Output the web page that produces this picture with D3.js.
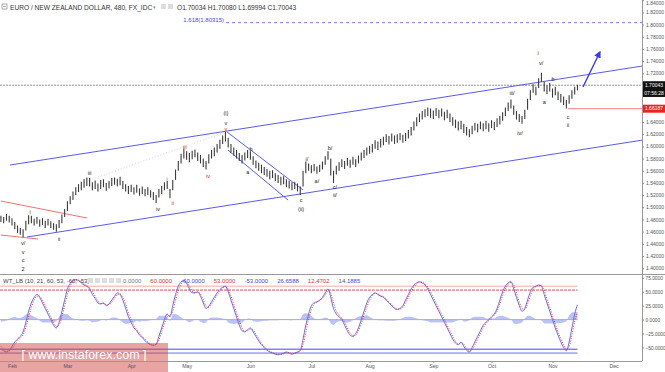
<!DOCTYPE html>
<html>
<head>
<meta charset="utf-8">
<script src="https://cdn.jsdelivr.net/npm/d3@7"></script>
<style>
  body { margin: 0; background: #fff; }
  svg { display: block; font-family: "Liberation Sans", Arial, sans-serif; }
</style>
</head>
<body>
<svg id="chart" width="665" height="372"></svg>
<script>
// daily lows / highs (trading day index 0 = 26 Jan)
const lows = [
  1.476,1.474,1.478,1.475,1.470,1.464,1.458,1.455,1.451,1.462,
  1.472,1.474,1.470,1.473,1.468,1.471,1.466,1.470,1.466,1.463,
  1.460,1.466,1.474,1.484,1.494,1.505,1.512,1.520,1.525,1.528,
  1.532,1.535,1.534,1.528,1.530,1.526,1.530,1.533,1.527,1.531,
  1.535,1.537,1.534,1.536,1.530,1.526,1.522,1.525,1.521,1.524,
  1.519,1.522,1.518,1.520,1.516,1.512,1.507,1.516,1.522,1.528,
  1.530,1.515,1.528,1.545,1.560,1.572,1.580,1.578,1.574,1.579,
  1.582,1.576,1.572,1.566,1.562,1.572,1.580,1.584,1.590,1.596,
  1.604,1.608,1.598,1.590,1.585,1.580,1.576,1.572,1.577,1.581,
  1.578,1.570,1.564,1.560,1.556,1.553,1.550,1.546,1.548,1.543,
  1.540,1.536,1.538,1.533,1.531,1.528,1.530,1.526,1.520,1.534,
  1.556,1.560,1.556,1.559,1.555,1.558,1.562,1.570,1.578,1.552,
  1.540,1.554,1.560,1.566,1.563,1.568,1.565,1.570,1.566,1.572,
  1.577,1.581,1.585,1.588,1.590,1.596,1.594,1.598,1.602,1.607,
  1.603,1.608,1.604,1.606,1.610,1.606,1.609,1.613,1.618,1.626,
  1.633,1.640,1.644,1.648,1.650,1.647,1.645,1.650,1.646,1.649,
  1.643,1.646,1.640,1.634,1.630,1.626,1.628,1.622,1.618,1.615,
  1.620,1.626,1.623,1.628,1.625,1.628,1.624,1.630,1.627,1.632,
  1.636,1.642,1.650,1.658,1.662,1.652,1.644,1.640,1.637,1.645,
  1.660,1.676,1.688,1.684,1.696,1.706,1.690,1.686,1.690,1.680,
  1.684,1.676,1.672,1.668,1.662,1.670,1.678,1.685,1.692
];
const highs = [
  1.486,1.484,1.489,1.486,1.482,1.476,1.470,1.466,1.464,1.478,
  1.487,1.486,1.481,1.484,1.480,1.482,1.478,1.481,1.477,1.474,
  1.472,1.479,1.488,1.497,1.510,1.518,1.526,1.533,1.538,1.542,
  1.546,1.549,1.548,1.541,1.544,1.539,1.545,1.546,1.540,1.543,
  1.548,1.549,1.547,1.550,1.543,1.538,1.535,1.537,1.533,1.537,
  1.531,1.534,1.530,1.533,1.528,1.525,1.520,1.530,1.535,1.541,
  1.543,1.530,1.545,1.562,1.576,1.588,1.596,1.592,1.589,1.593,
  1.595,1.590,1.586,1.580,1.576,1.587,1.594,1.598,1.604,1.611,
  1.618,1.624,1.614,1.604,1.598,1.594,1.589,1.586,1.590,1.594,
  1.592,1.584,1.577,1.573,1.570,1.566,1.563,1.560,1.561,1.556,
  1.553,1.550,1.551,1.546,1.544,1.541,1.542,1.539,1.534,1.560,
  1.575,1.572,1.569,1.571,1.567,1.570,1.575,1.584,1.592,1.580,
  1.560,1.568,1.574,1.579,1.576,1.581,1.578,1.583,1.579,1.585,
  1.590,1.594,1.598,1.601,1.604,1.610,1.608,1.612,1.616,1.620,
  1.617,1.621,1.618,1.620,1.622,1.619,1.622,1.627,1.632,1.641,
  1.648,1.654,1.658,1.661,1.664,1.662,1.659,1.663,1.660,1.662,
  1.657,1.660,1.654,1.648,1.644,1.641,1.642,1.637,1.632,1.628,
  1.634,1.639,1.637,1.641,1.638,1.642,1.638,1.643,1.640,1.646,
  1.650,1.656,1.664,1.672,1.677,1.667,1.658,1.653,1.650,1.660,
  1.678,1.692,1.702,1.698,1.712,1.721,1.706,1.700,1.704,1.695,
  1.698,1.690,1.686,1.682,1.676,1.684,1.692,1.698,1.701
];

// WT_LB oscillator, one reading per trading day
const wt1 = [
  -52,-56,-58,-55,-48,-40,-35,-30,-22,-5,
  15,30,40,45,40,30,20,10,0,-10,
  -15,-5,15,35,55,65,70,72,70,66,
  62,60,55,45,38,30,28,30,25,28,
  35,42,48,45,35,20,5,-5,-15,-20,
  -28,-32,-38,-42,-45,-46,-44,-30,-15,0,
  10,5,25,45,60,68,70,65,55,48,
  48,50,42,30,20,24,32,40,48,54,
  58,60,50,35,20,5,-10,-20,-22,-18,
  -15,-22,-30,-38,-45,-50,-55,-58,-60,-62,
  -63,-62,-60,-58,-60,-62,-60,-58,-55,-35,
  -10,10,25,30,32,35,40,48,55,40,
  20,10,5,0,-10,-20,-28,-30,-25,-15,
  0,15,30,40,45,48,45,42,40,35,
  30,25,20,18,20,25,35,45,55,62,
  66,68,66,62,55,45,35,25,15,5,
  -5,-15,-25,-35,-42,-45,-40,-48,-55,-58,
  -50,-40,-30,-20,-10,-5,0,5,10,20,
  35,50,60,66,68,55,40,25,15,20,
  35,50,58,60,62,60,45,30,15,0,
  -15,-28,-40,-50,-56,-40,-15,10,26.66
];
const wt2 = [
  -48,-53,-56,-56,-52,-45,-38,-33,-27,-14,
  5,22,35,42,42,35,25,15,5,-5,
  -12,-10,5,25,45,60,68,71,71,68,
  64,61,57,50,42,34,29,29,27,27,
  31,38,45,46,40,28,12,0,-10,-18,
  -24,-30,-35,-40,-44,-46,-45,-37,-22,-7,
  5,8,15,35,52,64,69,67,60,51,
  48,49,46,36,25,22,28,36,44,51,
  56,59,55,42,28,12,-2,-15,-21,-20,
  -17,-19,-26,-34,-42,-48,-53,-57,-59,-61,
  -62,-62,-61,-59,-59,-61,-61,-59,-56,-45,
  -22,0,18,28,31,34,38,44,52,47,
  30,15,8,2,-5,-15,-24,-29,-28,-20,
  -7,8,22,35,43,47,46,43,41,37,
  32,27,22,19,19,22,30,40,50,58,
  64,67,67,64,58,50,40,30,20,10,
  0,-10,-20,-30,-39,-44,-42,-44,-52,-57,
  -54,-45,-35,-25,-15,-7,-2,3,8,15,
  28,43,55,63,67,62,48,32,20,18,
  28,43,54,59,61,61,52,37,22,7,
  -8,-22,-34,-45,-53,-48,-28,-3,12.47
];

const monthTicks = [4, 24, 47, 67, 90, 112, 133, 156, 177, 199, 221];
const monthNames = ['Feb','Mar','Apr','May','Jun','Jul','Aug','Sep','Oct','Nov','Dec'];
const priceTicks = [1.84,1.82,1.80,1.78,1.76,1.74,1.72,1.64,1.62,1.60,1.58,1.56,1.54,1.52,1.50,1.48,1.46,1.44,1.42,1.40];
const oscTicks = [75, 50, 25, 0, -25, -50];
const oscLevels = [60, 53, 0, -53, -60];

// wave counts: [day index, price, text, red]
const waveLabels = [
  [8, 1.4413, 'v/', 0], [8, 1.4265, 'v', 0], [8, 1.4134, 'c', 0], [8, 1.3986, '2', 0],
  [10.5, 1.4922, 'i', 0], [21, 1.4479, 'ii', 0], [32, 1.5563, 'iii', 0], [56.7, 1.4971, 'iv', 0],
  [60, 1.5464, 'i', 1], [62, 1.5070, 'ii', 1], [66.4, 1.5990, 'iii', 1], [74.7, 1.5513, 'iv', 1],
  [81.2, 1.6548, '(i)', 0], [81.2, 1.6384, 'v', 0], [81.2, 1.6285, 'v', 1],
  [90.2, 1.5957, 'b', 0], [89.1, 1.5579, 'a', 0], [108.3, 1.5119, 'c', 0], [108.3, 1.4971, '(ii)', 0],
  [110.4, 1.5792, 'i/', 0], [114, 1.5431, 'a/', 0], [118.7, 1.5973, 'b/', 0],
  [120.5, 1.5333, 'c/', 0], [120.5, 1.5201, 'ii/', 0],
  [184.4, 1.6876, 'iii/', 0], [187.3, 1.6219, 'iv/', 0],
  [193.8, 1.7533, 'i', 0], [194.9, 1.7369, 'v/', 0], [199.2, 1.7106, 'b', 0], [196, 1.6728, 'a', 0],
  [204.6, 1.6482, 'c', 0], [204.6, 1.6351, 'ii', 0]
];

// trend lines: [i0, p0, i1, p1, colour, dash]
const trendLines = [
  [3.3, 1.5694, 231.5, 1.7320, '#5a5af0', null],
  [9.4, 1.4512, 231.5, 1.6104, '#5a5af0', null],
  [0, 1.5103, 31.1, 1.4824, '#f07070', null],
  [0, 1.4545, 13.4, 1.4479, '#f07070', null],
  [81.6, 1.6236, 109, 1.5284, '#5a5af0', null],
  [81.9, 1.5940, 103.6, 1.5119, '#5a5af0', null],
  [32, 1.5448, 81.2, 1.6236, '#d0d0d0', '1,2']
];

const lastPrice = 1.70043;
const stopPrice = 1.66187;
const fibPrice = 1.80315;

const svg = d3.select('#chart');
const plotRight = 642;
const mainBottom = 274;
const oscBottom = 361;

const x = d3.scaleLinear().domain([0, 221]).range([0.9, 613.5]);
const y = d3.scaleLinear().domain([1.40, 1.84]).range([268.2, 0.2]);
const yo = d3.scaleLinear().domain([-50, 75]).range([347.5, 277.8]);

const defs = svg.append('defs');
defs.append('clipPath').attr('id', 'clipMain')
  .append('rect').attr('x', 0).attr('y', 0).attr('width', plotRight).attr('height', mainBottom);
defs.append('clipPath').attr('id', 'clipOsc')
  .append('rect').attr('x', 0).attr('y', mainBottom).attr('width', plotRight).attr('height', oscBottom - mainBottom);

const main = svg.append('g').attr('clip-path', 'url(#clipMain)');

// current price line
main.append('line')
  .attr('x1', 0).attr('x2', plotRight)
  .attr('y1', y(lastPrice)).attr('y2', y(lastPrice))
  .attr('stroke', '#777').attr('stroke-dasharray', '2,1').attr('stroke-width', 0.8);

// fib target
main.append('line')
  .attr('x1', 226).attr('x2', plotRight)
  .attr('y1', y(fibPrice)).attr('y2', y(fibPrice))
  .attr('stroke', '#5a5af0').attr('stroke-dasharray', '3,3').attr('stroke-width', 0.8);
main.append('text')
  .attr('x', 224).attr('y', y(fibPrice) - 0.5)
  .attr('text-anchor', 'end')
  .attr('font-size', 6).attr('fill', '#4848e8')
  .text('1.618(1.80315)');

// stop level
main.append('line')
  .attr('x1', x(204.6)).attr('x2', plotRight)
  .attr('y1', y(stopPrice)).attr('y2', y(stopPrice))
  .attr('stroke', '#f06060').attr('stroke-width', 0.8);

main.selectAll('.trend')
  .data(trendLines)
  .enter()
  .append('line')
  .attr('x1', d => x(d[0])).attr('y1', d => y(d[1]))
  .attr('x2', d => x(d[2])).attr('y2', d => y(d[3]))
  .attr('stroke', d => d[4])
  .attr('stroke-dasharray', d => d[5])
  .attr('stroke-width', 1);

// price bars
main.selectAll('.bar')
  .data(lows)
  .enter()
  .append('line')
  .attr('x1', (d, i) => x(i)).attr('x2', (d, i) => x(i))
  .attr('y1', d => y(d))
  .attr('y2', (d, i) => y(highs[i]))
  .attr('stroke', '#3a3a3a')
  .attr('stroke-width', 1.1);

main.selectAll('.wave')
  .data(waveLabels)
  .enter()
  .append('text')
  .attr('x', d => x(d[0]))
  .attr('y', d => y(d[1]))
  .attr('dy', '0.35em')
  .attr('text-anchor', 'middle')
  .attr('font-size', 5.5)
  .attr('fill', d => d[3] ? '#e02020' : '#222')
  .text(d => d[2]);

// projection arrow
defs.append('marker').attr('id', 'arrow')
  .attr('viewBox', '0 0 10 10').attr('refX', 8).attr('refY', 5)
  .attr('markerWidth', 5).attr('markerHeight', 5).attr('orient', 'auto')
  .append('path').attr('d', 'M0,0 L10,5 L0,10 z').attr('fill', '#3838f0');
main.append('line')
  .attr('x1', x(210)).attr('y1', y(1.6975))
  .attr('x2', x(216.1)).attr('y2', y(1.755))
  .attr('stroke', '#3838f0').attr('stroke-width', 1.4)
  .attr('marker-end', 'url(#arrow)');

// header
const head = svg.append('g').attr('font-size', 6.6).attr('fill', '#333');
head.append('rect').attr('x', 2).attr('y', 4).attr('width', 5).attr('height', 5)
  .attr('fill', 'none').attr('stroke', '#777').attr('stroke-width', 0.6);
head.append('line').attr('x1', 3).attr('x2', 6).attr('y1', 6.5).attr('y2', 6.5)
  .attr('stroke', '#777').attr('stroke-width', 0.6);
head.append('text').attr('x', 10).attr('y', 9.5)
  .text('EURO / NEW ZEALAND DOLLAR, 480, FX_IDC');
head.append('text').attr('x', 153).attr('y', 9).attr('font-size', 5).attr('fill', '#888').text('▾');
head.append('rect').attr('x', 161).attr('y', 4).attr('width', 5).attr('height', 5).attr('fill', '#ddd');
head.append('rect').attr('x', 168).attr('y', 4).attr('width', 5).attr('height', 5).attr('fill', '#ddd');
head.append('text').attr('x', 177).attr('y', 9.5)
  .text('O1.70034  H1.70080  L1.69994  C1.70043');

// price axis
const pAxis = svg.append('g')
  .attr('transform', `translate(${plotRight},0)`)
  .call(d3.axisRight(y).tickValues(priceTicks).tickFormat(d3.format('.5f')).tickSize(2).tickPadding(2));
pAxis.select('.domain').remove();
pAxis.selectAll('text').attr('font-size', 5).attr('fill', '#555').attr('font-family', null);
pAxis.selectAll('line').attr('stroke', '#888');
// keep the top label inside the frame
pAxis.selectAll('.tick').filter(d => d === 1.84).select('text').attr('dy', '0.9em');

svg.append('line')
  .attr('x1', plotRight + 0.5).attr('x2', plotRight + 0.5)
  .attr('y1', 0).attr('y2', oscBottom)
  .attr('stroke', '#999');

const tags = [
  [lastPrice, '1.70043', '#111'],
  [1.6877, '07:56:28', '#111'],
  [stopPrice, '1.66187', '#e52424']
];
const tagG = svg.selectAll('.tag').data(tags).enter().append('g');
tagG.append('rect')
  .attr('x', plotRight + 1).attr('y', d => y(d[0]) - 4)
  .attr('width', 22).attr('height', 8)
  .attr('fill', d => d[2]);
tagG.append('text')
  .attr('x', plotRight + 12).attr('y', d => y(d[0]))
  .attr('dy', '0.35em').attr('text-anchor', 'middle')
  .attr('font-size', 5).attr('fill', '#fff')
  .text(d => d[1]);

// panel separator
svg.append('line')
  .attr('x1', 0).attr('x2', 665)
  .attr('y1', mainBottom + 0.5).attr('y2', mainBottom + 0.5)
  .attr('stroke', '#999');

// oscillator panel
const osc = svg.append('g').attr('clip-path', 'url(#clipOsc)');
const levelStyle = {
  '60': ['#f6a8a8', null], '53': ['#e84848', '3,1'], '0': ['#aaa', null],
  '-53': ['#4848e8', null], '-60': ['#6a6af0', null]
};
osc.selectAll('.lvl')
  .data(oscLevels)
  .enter()
  .append('line')
  .attr('x1', 0).attr('x2', x(208))
  .attr('y1', d => yo(d)).attr('y2', d => yo(d))
  .attr('stroke', d => levelStyle[d][0])
  .attr('stroke-dasharray', d => levelStyle[d][1])
  .attr('stroke-width', 1);

const diff = wt1.map((d, i) => d - wt2[i]);
osc.append('path')
  .datum(diff)
  .attr('fill', '#aab3f2')
  .attr('fill-opacity', 0.8)
  .attr('d', d3.area().x((d, i) => x(i)).y0(yo(0)).y1(d => yo(d)));

osc.append('path')
  .datum(wt1)
  .attr('fill', 'none')
  .attr('stroke', '#6a6af2')
  .attr('stroke-width', 1)
  .attr('d', d3.line().x((d, i) => x(i)).y(d => yo(d)).curve(d3.curveMonotoneX));

osc.append('path')
  .datum(wt2)
  .attr('fill', 'none')
  .attr('stroke', '#e83030')
  .attr('stroke-width', 1)
  .attr('stroke-dasharray', '1,1.5')
  .attr('d', d3.line().x((d, i) => x(i)).y(d => yo(d)).curve(d3.curveMonotoneX));

const oAxis = svg.append('g')
  .attr('transform', `translate(${plotRight},0)`)
  .call(d3.axisRight(yo).tickValues(oscTicks).tickFormat(d3.format('.4f')).tickSize(2).tickPadding(1.5));
oAxis.select('.domain').remove();
oAxis.selectAll('text').attr('font-size', 4.8).attr('fill', '#555').attr('font-family', null);
oAxis.selectAll('line').attr('stroke', '#888');

// oscillator header
const oh = svg.append('g').attr('font-size', 6);
oh.append('text').attr('x', 3).attr('y', 283).attr('fill', '#444')
  .text('WT_LB (10, 21, 60, 53, -60, -53)');
[88, 95, 102, 109, 116].forEach(px => {
  oh.append('rect').attr('x', px).attr('y', 278).attr('width', 5).attr('height', 5).attr('fill', '#ddd');
});
const vals = [
  ['0.0000', '#777'], ['60.0000', '#e83030'], ['-60.0000', '#4848e8'], ['53.0000', '#e83030'],
  ['-53.0000', '#4848e8'], ['26.6588', '#4848e8'], ['12.4702', '#e83030'], ['14.1885', '#4848e8']
];
let vx = 123;
vals.forEach(v => {
  const t = oh.append('text').attr('x', vx).attr('y', 283).attr('fill', v[1]).text(v[0]);
  vx += t.node().getComputedTextLength() + 9;
});

// watermark
svg.append('rect')
  .attr('x', 0).attr('y', 343).attr('width', 168).attr('height', 29)
  .attr('fill', '#d24848').attr('fill-opacity', 0.5);
svg.append('text')
  .attr('x', 84).attr('y', 359)
  .attr('text-anchor', 'middle')
  .attr('font-size', 12.5).attr('fill', '#fff')
  .text('[ www.instaforex.com ]');

// date axis
svg.append('line')
  .attr('x1', 0).attr('x2', plotRight)
  .attr('y1', oscBottom + 0.5).attr('y2', oscBottom + 0.5)
  .attr('stroke', '#999');
const dAxis = svg.append('g')
  .attr('transform', `translate(0,${oscBottom})`)
  .call(d3.axisBottom(x).tickValues(monthTicks).tickFormat((d, i) => monthNames[i]).tickSize(2).tickPadding(1.5));
dAxis.select('.domain').remove();
dAxis.selectAll('text').attr('font-size', 5.2).attr('fill', '#555').attr('font-family', null);
dAxis.selectAll('line').attr('stroke', '#999');
</script>
</body>
</html>
